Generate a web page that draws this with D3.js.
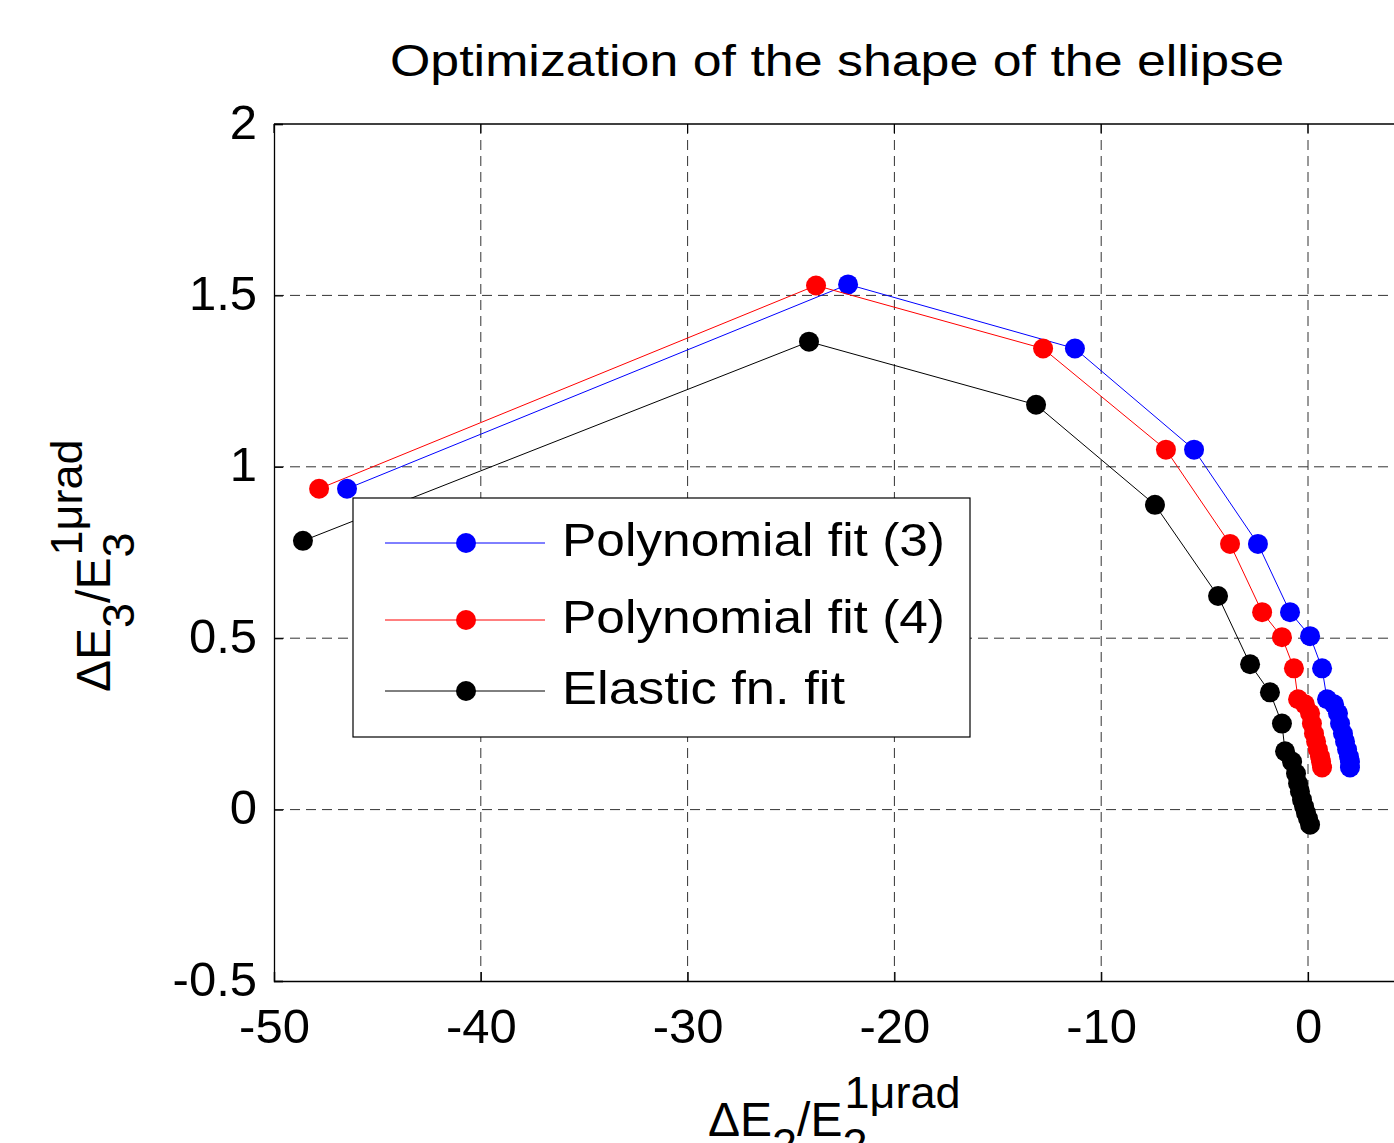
<!DOCTYPE html>
<html>
<head>
<meta charset="utf-8">
<script src="https://cdn.jsdelivr.net/npm/d3@7"></script>
<style>
  body { margin: 0; background: #fff; }
  text { font-family: "Liberation Sans", Arial, sans-serif; fill: #000; }
</style>
</head>
<body>
<div id="chart"></div>
<script>
// series values (x = dE2/E2, y = dE3/E3)
var polyFit3X = [-46.47, -22.24, -11.27, -5.51, -2.42, -0.87, 0.10, 0.68, 0.92, 1.26, 1.45, 1.55, 1.69, 1.79, 1.89, 1.98, 2.03, 2.03];
var polyFit3Y = [0.936, 1.532, 1.345, 1.050, 0.775, 0.576, 0.506, 0.412, 0.322, 0.307, 0.281, 0.251, 0.222, 0.199, 0.175, 0.155, 0.140, 0.123];

var polyFit4X = [-47.82, -23.79, -12.81, -6.87, -3.77, -2.22, -1.26, -0.68, -0.48, -0.15, 0.10, 0.19, 0.29, 0.39, 0.48, 0.58, 0.63, 0.68];
var polyFit4Y = [0.936, 1.529, 1.345, 1.050, 0.775, 0.576, 0.503, 0.412, 0.322, 0.307, 0.281, 0.251, 0.222, 0.199, 0.175, 0.155, 0.140, 0.123];

var elasticX = [-48.60, -24.13, -13.15, -7.40, -4.35, -2.80, -1.84, -1.26, -1.11, -0.77, -0.58, -0.48, -0.39, -0.29, -0.19, -0.10, 0.00, 0.10];
var elasticY = [0.784, 1.365, 1.181, 0.889, 0.623, 0.424, 0.342, 0.251, 0.170, 0.140, 0.105, 0.076, 0.053, 0.029, 0.009, -0.009, -0.026, -0.044];

var seriesNames = ["Polynomial fit (3)", "Polynomial fit (4)", "Elastic fn. fit"];
var seriesColors = ["#0000ff", "#ff0000", "#000000"];

var xTicks = [-50, -40, -30, -20, -10, 0];
var yTicks = [-0.5, 0, 0.5, 1, 1.5, 2];

var width = 1394, height = 1143;
var plotLeft = 274, plotTop = 124, plotBottom = 981;

var svg = d3.select("#chart").append("svg")
    .attr("width", width)
    .attr("height", height);

// axis runs to +5, the right part falls outside the picture
var x = d3.scaleLinear().domain([-50, 5]).range([plotLeft, plotLeft + 55 * 20.68]);
var y = d3.scaleLinear().domain([-0.5, 2]).range([plotBottom, plotTop]);

// grid
var grid = svg.append("g");
grid.selectAll(".vgrid").data(xTicks.slice(1)).enter().append("line")
    .attr("x1", function(d){ return x(d); })
    .attr("x2", function(d){ return x(d); })
    .attr("y1", plotTop).attr("y2", plotBottom)
    .style("stroke", "#333").style("stroke-width", 1)
    .style("stroke-dasharray", "10,6");
grid.selectAll(".hgrid").data(yTicks.slice(1, -1)).enter().append("line")
    .attr("x1", plotLeft).attr("x2", x(5))
    .attr("y1", function(d){ return y(d); })
    .attr("y2", function(d){ return y(d); })
    .style("stroke", "#333").style("stroke-width", 1)
    .style("stroke-dasharray", "10,6");

// axes
var xAxis = d3.axisBottom(x).tickValues(xTicks).tickSize(-9).tickPadding(0)
    .tickFormat(function(d){ return d; });
var yAxis = d3.axisLeft(y).tickValues(yTicks).tickSize(-9).tickPadding(0)
    .tickFormat(function(d){ return d; });

var gx = svg.append("g").attr("transform", "translate(0," + plotBottom + ")").call(xAxis);
var gy = svg.append("g").attr("transform", "translate(" + plotLeft + ",0)").call(yAxis);
[gx, gy].forEach(function(g){
    g.select(".domain").style("stroke", "#000").style("stroke-width", 1.3);
    g.selectAll(".tick line").style("stroke", "#000").style("stroke-width", 1.2);
    g.selectAll(".tick text").style("font-size", "49px").style("fill", "#000")
        .style("font-family", "'Liberation Sans', Arial, sans-serif");
});
gx.selectAll(".tick text").attr("y", 62).attr("dy", 0);
gy.selectAll(".tick text").attr("x", -17).attr("dy", 14);

// top frame with ticks
svg.append("line")
    .attr("x1", plotLeft).attr("x2", x(5))
    .attr("y1", plotTop).attr("y2", plotTop)
    .style("stroke", "#000").style("stroke-width", 1.3);
svg.append("g").selectAll("line").data(xTicks).enter().append("line")
    .attr("x1", function(d){ return x(d); })
    .attr("x2", function(d){ return x(d); })
    .attr("y1", plotTop).attr("y2", plotTop + 9)
    .style("stroke", "#000").style("stroke-width", 1.2);

// series
var allSeries = [
    d3.zip(polyFit3X, polyFit3Y),
    d3.zip(polyFit4X, polyFit4Y),
    d3.zip(elasticX, elasticY)
];
var line = d3.line().x(function(d){ return x(d[0]); }).y(function(d){ return y(d[1]); });

allSeries.forEach(function(pts, i){
    var g = svg.append("g");
    g.append("path").datum(pts)
        .attr("d", line)
        .style("fill", "none")
        .style("stroke", seriesColors[i])
        .style("stroke-width", 1);
    g.selectAll("circle").data(pts).enter().append("circle")
        .attr("cx", function(d){ return x(d[0]); })
        .attr("cy", function(d){ return y(d[1]); })
        .attr("r", 10)
        .style("fill", seriesColors[i]);
});

// legend
var legendWidths = [383, 383, 283];
var lg = svg.append("g").attr("transform", "translate(353,498)");
lg.append("rect").attr("width", 617).attr("height", 239)
    .style("fill", "#fff").style("stroke", "#000").style("stroke-width", 1.2);
var rowY = [45, 122, 193];
seriesNames.forEach(function(name, i){
    var r = lg.append("g").attr("transform", "translate(0," + rowY[i] + ")");
    r.append("line").attr("x1", 32).attr("x2", 192)
        .style("stroke", seriesColors[i]).style("stroke-width", 1);
    r.append("circle").attr("cx", 113).attr("r", 10).style("fill", seriesColors[i]);
    r.append("text").attr("x", 209).attr("y", 13)
        .attr("textLength", legendWidths[i]).attr("lengthAdjust", "spacingAndGlyphs")
        .style("font-size", "46px").text(name);
});

// title
svg.append("text").attr("x", 390).attr("y", 76)
    .attr("textLength", 894).attr("lengthAdjust", "spacingAndGlyphs")
    .style("font-size", "44px")
    .text("Optimization of the shape of the ellipse");

// axis label with stacked sub/superscript
function stackedLabel(g, idx) {
    var t = g.append("text").style("font-size", "48px");
    t.append("tspan").text("ΔE");
    t.append("tspan").attr("dy", 24).style("font-size", "45px").text(idx);
    t.append("tspan").attr("dy", -24).text("/E");
    t.append("tspan").attr("dy", 24).style("font-size", "45px").text(idx);
    t.append("tspan").attr("dx", -23).attr("dy", -52).style("font-size", "45px").text("1μrad");
    return t;
}
stackedLabel(svg.append("g").attr("transform", "translate(708,1136)"), "2");
stackedLabel(svg.append("g").attr("transform", "translate(110,692) rotate(-90)"), "3");
</script>
</body>
</html>
